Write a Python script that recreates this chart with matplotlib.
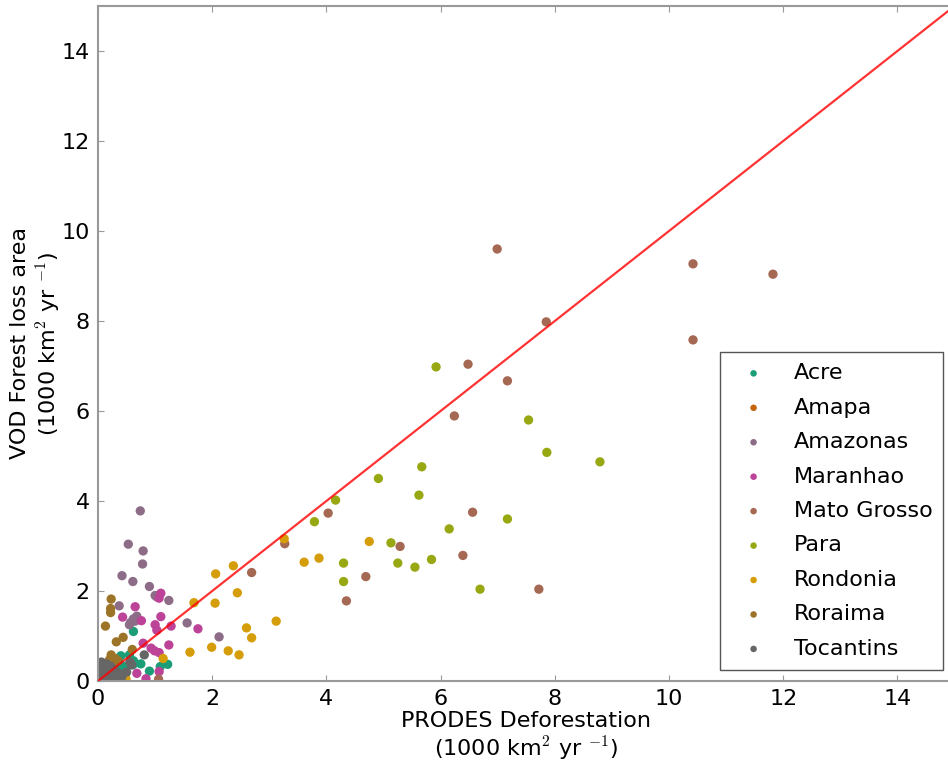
import numpy as np
import matplotlib
matplotlib.use('Agg')
import matplotlib.pyplot as plt
from matplotlib.colors import LinearSegmentedColormap

plt.rcParams['font.family'] = 'DejaVu Sans'
plt.rcParams['mathtext.fontset'] = 'cm'

# PRODES deforestation (x) vs VOD forest loss (y), 1000 km2 / yr
states = ['Acre', 'Amapa', 'Amazonas', 'Maranhao', 'Mato Grosso',
          'Para', 'Rondonia', 'Roraima', 'Tocantins']

acre_x = [0.62, 0.40, 0.55, 0.39, 0.51, 0.61, 0.45, 0.37, 0.26, 0.75, 0.90, 1.09, 1.22, 0.30, 0.20, 0.48, 0.15, 0.62]
acre_y = [1.10, 0.56, 0.58, 0.37, 0.33, 0.36, 0.28, 0.28, 0.28, 0.38, 0.22, 0.32, 0.37, 0.18, 0.12, 0.15, 0.05, 0.45]

amapa_x = [0.03, 0.05, 0.08, 0.02, 0.06, 0.10, 0.04, 0.12, 0.01, 0.07, 0.03, 0.09, 0.05, 0.02, 0.11, 0.06, 0.08, 0.04]
amapa_y = [0.13, 0.05, 0.10, 0.02, 0.18, 0.03, 0.08, 0.06, 0.05, 0.02, 0.20, 0.14, 0.12, 0.08, 0.10, 0.04, 0.06, 0.16]

amazonas_x = [0.74, 0.53, 0.79, 0.78, 0.42, 0.61, 0.90, 1.03, 1.24, 0.37, 0.62, 0.68, 1.56, 2.12, 0.57, 0.65, 0.55, 1.00]
amazonas_y = [3.78, 3.04, 2.89, 2.60, 2.34, 2.21, 2.10, 1.87, 1.79, 1.67, 1.38, 1.44, 1.29, 0.98, 1.30, 1.33, 1.25, 1.90]

maranhao_x = [1.10, 1.07, 0.65, 0.43, 0.76, 1.10, 1.00, 1.28, 1.03, 1.75, 1.24, 0.93, 0.99, 1.07, 0.68, 0.84, 1.07, 0.79]
maranhao_y = [1.95, 1.84, 1.65, 1.42, 1.34, 1.43, 1.25, 1.22, 1.13, 1.16, 0.80, 0.73, 0.67, 0.63, 0.17, 0.05, 0.21, 0.84]

mato_x = [6.99, 10.42, 11.82, 7.85, 10.42, 6.48, 7.17, 6.24, 4.03, 6.56, 3.27, 5.29, 6.39, 4.69, 2.69, 7.72, 4.35, 1.06]
mato_y = [9.60, 9.27, 9.04, 7.98, 7.58, 7.04, 6.67, 5.89, 3.73, 3.75, 3.05, 2.99, 2.79, 2.32, 2.41, 2.04, 1.78, 0.04]

para_x = [5.92, 7.54, 7.86, 8.79, 5.67, 4.91, 5.62, 4.16, 3.79, 7.17, 6.15, 5.13, 4.30, 5.25, 5.55, 5.84, 4.30, 6.69]
para_y = [6.98, 5.80, 5.08, 4.87, 4.76, 4.50, 4.13, 4.02, 3.54, 3.60, 3.38, 3.07, 2.62, 2.62, 2.53, 2.70, 2.21, 2.04]

rondonia_x = [3.26, 4.75, 3.61, 3.87, 2.37, 2.06, 2.05, 2.44, 3.12, 2.60, 2.69, 1.99, 2.28, 2.47, 1.61, 1.68, 1.14, 0.49]
rondonia_y = [3.16, 3.10, 2.64, 2.73, 2.56, 2.38, 1.73, 1.96, 1.33, 1.18, 0.96, 0.75, 0.67, 0.58, 0.64, 1.74, 0.50, 0.04]

roraima_x = [0.23, 0.22, 0.22, 0.13, 0.44, 0.32, 0.60, 0.23, 0.20, 0.12, 0.25, 0.10, 0.30, 0.18, 0.05, 0.35, 0.15, 0.28]
roraima_y = [1.82, 1.61, 1.52, 1.22, 0.97, 0.87, 0.70, 0.58, 0.47, 0.30, 0.40, 0.15, 0.50, 0.25, 0.05, 0.45, 0.35, 0.10]

tocantins_x = [0.81, 0.09, 0.59, 0.04, 0.15, 0.22, 0.10, 0.28, 0.03, 0.35, 0.56, 0.18, 0.13, 0.42, 0.06, 0.30, 0.50, 0.25]
tocantins_y = [0.58, 0.36, 0.36, 0.30, 0.38, 0.33, 0.22, 0.25, 0.12, 0.18, 0.42, 0.14, 0.05, 0.10, 0.42, 0.05, 0.20, 0.12]

xs = [acre_x, amapa_x, amazonas_x, maranhao_x, mato_x, para_x, rondonia_x, roraima_x, tocantins_x]
ys = [acre_y, amapa_y, amazonas_y, maranhao_y, mato_y, para_y, rondonia_y, roraima_y, tocantins_y]

# old-style interpolated Dark2
dark2 = ['#1b9e77', '#d95f02', '#7570b3', '#e7298a', '#66a61e', '#e6ab02', '#a6761d', '#666666']
cmap = LinearSegmentedColormap.from_list('dark2_old', dark2)
colors = cmap(np.linspace(0, 1, len(states)))

fig = plt.figure(figsize=(9.48, 7.68), dpi=100)
ax = fig.add_axes([0.1034, 0.1133, 0.9035, 0.8789])

for i in range(len(states)):
    ax.scatter(xs[i], ys[i], s=45, color=colors[i], edgecolors='none', label=states[i], zorder=2)

ax.plot([0, 15], [0, 15], color='red', alpha=0.8, lw=1.6, zorder=3)

ax.set_xlim(0, 15)
ax.set_ylim(0, 15)
ax.set_xticks([0, 2, 4, 6, 8, 10, 12, 14])
ax.set_yticks([0, 2, 4, 6, 8, 10, 12, 14])
ax.tick_params(direction='in', top=True, right=True, labelsize=16, length=4,
               color='#999999', pad=6)
for sp in ax.spines.values():
    sp.set_color('#999999')
    sp.set_linewidth(1.5)

ax.set_xlabel('PRODES Deforestation\n(1000 km$^2$ yr $^{-1}$)', fontsize=16, labelpad=1)
ax.set_ylabel('VOD Forest loss area\n(1000 km$^2$ yr $^{-1}$)', fontsize=16, labelpad=-1)

leg = ax.legend(loc='lower right', scatterpoints=1, fontsize=16, markerscale=0.7,
                fancybox=False, framealpha=1, borderaxespad=0.5,
                labelspacing=0.65, borderpad=0.5)
leg.get_frame().set_edgecolor('#555555')

fig.savefig('out.png', dpi=100)
